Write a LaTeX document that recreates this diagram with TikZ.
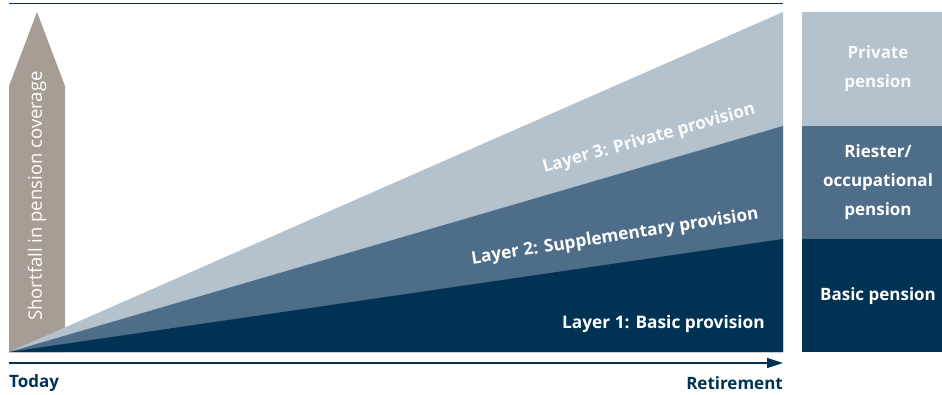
\documentclass[tikz,border=0pt]{standalone}
\usepackage{fontspec}
\setmainfont{Open Sans}
\usetikzlibrary{arrows.meta}
\definecolor{navy}{HTML}{003253}
\definecolor{midblue}{HTML}{4E6D88}
\definecolor{lightblue}{HTML}{B3C2CC}
\definecolor{warmgray}{HTML}{A69E95}
\begin{document}
\begin{tikzpicture}[x=1pt,y=-1pt,
  lbl/.style={font=\bfseries\fontsize{17.3}{20}\selectfont, text=white, inner sep=0pt},
  boxlbl/.style={font=\bfseries\fontsize{17}{29}\selectfont, text=white, align=center, inner sep=0pt},
  box/.style={minimum width=140pt, inner sep=0pt, anchor=north west, outer sep=0pt},
  axislbl/.style={font=\bfseries\fontsize{17}{20}\selectfont, text=navy, inner sep=0pt}]
\useasboundingbox (0,0) rectangle (942,394);
% top rule
\coordinate (tl) at (9,3);
\coordinate (tr) at (783,3);
\draw[navy, line width=1pt] (tl) -- (tr);
% shortfall arrow
\fill[warmgray] (9,352) -- (9,86) -- (37,12) -- (65,86) -- (65,352) -- cycle;
\node[rotate=90, text=white, font=\fontsize{18.5}{22}\selectfont, inner sep=0pt] (short) at (37,196) {Shortfall in pension coverage};
% wedges
\coordinate (O) at (9,352);
\coordinate (BR) at (783,352);
\coordinate (T3) at (783,12);
\coordinate (T2) at (783,126);
\coordinate (T1) at (783,239);
\fill[lightblue] (O) -- (T3) -- (BR) -- cycle;
\fill[midblue] (O) -- (T2) -- (BR) -- cycle;
\fill[navy] (O) -- (T1) -- (BR) -- cycle;
% wedge labels
\node[lbl, rotate=15.5, text=white!94!lightblue] (l3) at (649,139) {Layer 3: Private provision};
\node[lbl, rotate=9] (l2) at (615,237) {Layer 2: Supplementary provision};
\node[lbl, anchor=east] (l1) at (765,324) {Layer 1: Basic provision};
% boxes
\node[box, fill=lightblue, minimum height=114pt] (b3) at (802,12) {};
\node[box, fill=midblue, minimum height=113pt] (b2) at (802,126) {};
\node[box, fill=navy, minimum height=113pt] (b1) at (802,239) {};
\node[boxlbl, text=white!92!lightblue] (t3) at (878,69) {Private\\pension};
\node[boxlbl] (t2) at (878,182) {Riester/\\occupational\\pension};
\node[boxlbl] (t1) at (878,296) {Basic pension};
% axis
\coordinate (axL) at (9,363);
\coordinate (axR) at (783,363);
\draw[navy, line width=1.3pt, -{Triangle[length=16pt,width=10pt]}] (axL) -- (axR);
\node[axislbl, anchor=west] (today) at (9,383) {Today};
\node[axislbl, anchor=east] (ret) at (783,383) {Retirement};
\end{tikzpicture}
\end{document}
